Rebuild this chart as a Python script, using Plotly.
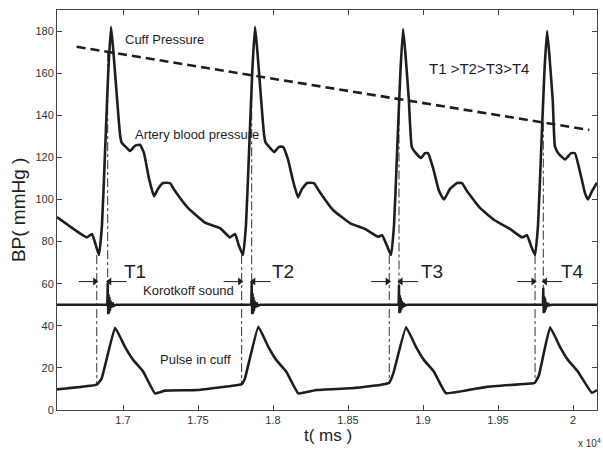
import plotly.graph_objects as go

# ---------------- data ----------------
artery_t = [16560, 16680, 16760, 16793, 16820, 16840, 16860, 16880, 16902, 16920, 16935, 16958,
            16980, 16991, 17027, 17047, 17080, 17113, 17140, 17173, 17207, 17233, 17267, 17313,
            17347, 17433, 17547, 17647, 17713, 17747, 17773, 17800, 17820, 17840, 17862, 17880,
            17895, 17918, 17940, 17951, 17987, 18007, 18040, 18067, 18100, 18133, 18167, 18193,
            18227, 18273, 18307, 18400, 18513, 18613, 18700, 18727, 18760, 18787, 18807, 18827,
            18849, 18867, 18882, 18905, 18925, 18947, 18987, 19013, 19033, 19067, 19107, 19140,
            19180, 19227, 19260, 19293, 19380, 19480, 19580, 19660, 19693, 19720, 19747, 19767,
            19787, 19809, 19827, 19842, 19865, 19880, 19907, 19947, 19987, 20013, 20047, 20080,
            20100, 20127, 20160]
artery_bp = [91.6, 85.5, 82, 83.6, 78, 73.6, 88, 122, 161, 182, 171, 150,
             131, 127, 124.4, 123, 125.5, 126, 122, 110, 101.6, 105, 107.8, 107.8,
             104, 96, 89, 86.4, 82, 83.6, 78, 73.6, 88, 122, 161, 182,
             171, 150, 131, 127, 124, 122.5, 125, 125, 119, 109, 101, 105,
             107.8, 107.8, 104, 95, 88.8, 86, 82.3, 83, 78, 73.6, 88, 122,
             160, 181, 170, 148, 125, 122.5, 119.7, 122, 122, 115, 104, 100,
             105, 107.8, 107.8, 104, 96, 90, 86, 82, 83, 78, 73.6, 88,
             122, 160, 180, 169, 147, 125, 121.5, 119, 122, 122, 113, 103,
             100, 104, 108]

cuff_t = [16691, 20109]
cuff_p = [172.5, 133]

pulse_t = [16560, 16825, 16858, 16947, 17013, 17069, 17135, 17213, 17280, 17500, 17767, 17791,
           17813, 17902, 17969, 18022, 18089, 18169, 18291, 18513, 18713, 18775, 18802, 18887,
           18953, 19007, 19073, 19153, 19425, 19735, 19747, 19773, 19847, 19913, 19967, 20033,
           20125, 20160]
pulse_p = [9.8, 12.0, 15, 39.1, 30, 23.7, 18.2, 7.9, 9.2, 9.5, 11.9, 12.3,
           15, 39.5, 30, 23.7, 18.2, 7.9, 9.5, 10.3, 11.9, 13, 17.4, 39.3,
           30, 23.7, 18.2, 8, 11, 12.7, 13, 16.5, 39.3, 30, 23.7, 18.2,
           8.2, 9.5]

korot_t = [16560,
           16880, 16895, 16898, 16901, 16904, 16907, 16910, 16913, 16917, 16922, 16930, 16940, 16955,
           17840, 17855, 17858, 17861, 17864, 17867, 17870, 17873, 17877, 17882, 17890, 17900, 17915,
           18822, 18837, 18840, 18843, 18846, 18849, 18852, 18855, 18859, 18864, 18872, 18882, 18897,
           19785, 19799, 19802, 19805, 19808, 19811, 19814, 19817, 19821, 19826, 19834, 19844, 19859,
           20160]
korot_v = [50,
           50.2, 50, 60.5, 45.5, 55, 46, 53.5, 47, 52, 48.5, 51, 49.5, 50,
           50, 50.2, 61, 45.5, 55.5, 45.8, 53.5, 47, 52, 48.5, 51, 49.5, 50,
           50, 50, 59.5, 46, 54.5, 46.3, 53, 47.5, 51.8, 48.6, 50.8, 49.6, 50,
           50, 50.1, 58, 46, 54, 46.5, 53, 47.5, 51.5, 48.8, 50.7, 49.7, 50,
           50]

left_line_t = [16825, 17791, 18775, 19747]
left_line_top = [73.6, 73.6, 73.6, 73.6]
left_line_bottom = [12.0, 12.3, 13.0, 13.0]
right_line_t = [16898, 17858, 18840, 19802]
right_line_top = [170, 159, 148, 136.5]
right_line_bottom = [46, 46, 46, 46]
interval_labels = ["T1", "T2", "T3", "T4"]

x_tickvals = [17000, 17500, 18000, 18500, 19000, 19500, 20000]
x_ticktext = ["1.7", "1.75", "1.8", "1.85", "1.9", "1.95", "2"]
y_tickvals = [0, 20, 40, 60, 80, 100, 120, 140, 160, 180]

# ---------------- figure ----------------
INK = "#1e1e1e"
FONT = "Liberation Sans, Arial, sans-serif"
ARROW_Y = 61

fig = go.Figure()

# dash-dot guide lines
for i in range(4):
    fig.add_trace(go.Scatter(x=[left_line_t[i], left_line_t[i]],
                             y=[left_line_top[i], left_line_bottom[i]],
                             mode="lines", line=dict(color="#333", width=1, dash="dashdot"),
                             hoverinfo="skip", showlegend=False))
    fig.add_trace(go.Scatter(x=[right_line_t[i], right_line_t[i]],
                             y=[right_line_top[i], right_line_bottom[i]],
                             mode="lines", line=dict(color="#333", width=1, dash="dashdot"),
                             hoverinfo="skip", showlegend=False))
    # interval arrows: left one points right, right one points left
    fig.add_trace(go.Scatter(x=[left_line_t[i] - 120, left_line_t[i] - 8],
                             y=[ARROW_Y, ARROW_Y], mode="lines",
                             line=dict(color=INK, width=1), hoverinfo="skip", showlegend=False))
    fig.add_trace(go.Scatter(x=[left_line_t[i] - 12], y=[ARROW_Y], mode="markers",
                             marker=dict(symbol="triangle-right", size=7, color=INK),
                             hoverinfo="skip", showlegend=False))
    fig.add_trace(go.Scatter(x=[right_line_t[i] + 8, right_line_t[i] + 127],
                             y=[ARROW_Y, ARROW_Y], mode="lines",
                             line=dict(color=INK, width=1), hoverinfo="skip", showlegend=False))
    fig.add_trace(go.Scatter(x=[right_line_t[i] + 12], y=[ARROW_Y], mode="markers",
                             marker=dict(symbol="triangle-left", size=7, color=INK),
                             hoverinfo="skip", showlegend=False))

fig.add_trace(go.Scatter(x=korot_t, y=korot_v, mode="lines",
                         line=dict(color=INK, width=2.4), name="Korotkoff sound", showlegend=False))
fig.add_trace(go.Scatter(x=pulse_t, y=pulse_p, mode="lines",
                         line=dict(color=INK, width=2.6, shape="spline", smoothing=0.3),
                         name="Pulse in cuff", showlegend=False))
fig.add_trace(go.Scatter(x=artery_t, y=artery_bp, mode="lines",
                         line=dict(color=INK, width=2.6, shape="spline", smoothing=0.4),
                         name="Artery blood pressure", showlegend=False))
fig.add_trace(go.Scatter(x=cuff_t, y=cuff_p, mode="lines",
                         line=dict(color=INK, width=2.6, dash="9px,5px"),
                         name="Cuff Pressure", showlegend=False))

annotations = []
label_dx = [95, 125, 130, 105]
for i in range(4):
    annotations.append(dict(x=right_line_t[i] + label_dx[i], y=66, xref="x", yref="y",
                            text=interval_labels[i], showarrow=False, xanchor="left",
                            yanchor="middle", font=dict(family=FONT, size=19, color=INK)))

text_notes = [
    ("Cuff Pressure", 17000, 176, 13),
    ("Artery blood pressure", 17065, 131, 13),
    ("T1 >T2>T3>T4", 19027, 162, 15),
    ("Korotkoff sound", 17120, 57, 13),
    ("Pulse in cuff", 17235, 24, 13),
]
for txt, tx, ty, sz in text_notes:
    annotations.append(dict(x=tx, y=ty, xref="x", yref="y", text=txt, showarrow=False,
                            xanchor="left", yanchor="middle",
                            font=dict(family=FONT, size=sz, color=INK)))

# axis titles and exponent
annotations.append(dict(x=-0.072, y=0.5, xref="paper", yref="paper", text="BP( mmHg )",
                        textangle=-90, showarrow=False, xanchor="center", yanchor="middle",
                        font=dict(family=FONT, size=19, color=INK)))
annotations.append(dict(x=0.502, y=-0.064, xref="paper", yref="paper", text="t( ms )",
                        showarrow=False, xanchor="center", yanchor="middle",
                        font=dict(family=FONT, size=17, color=INK)))
annotations.append(dict(x=1.011, y=-0.082, xref="paper", yref="paper", text="x 10<sup>4</sup>",
                        showarrow=False, xanchor="right", yanchor="middle",
                        font=dict(family=FONT, size=10, color="#333")))

fig.update_layout(
    width=603, height=450,
    margin=dict(l=57, r=6, t=10, b=40),
    paper_bgcolor="white", plot_bgcolor="white",
    font=dict(family=FONT, color="#333"),
    annotations=annotations,
    showlegend=False,
    xaxis=dict(range=[16560, 20160], tickvals=x_tickvals, ticktext=x_ticktext,
               ticks="inside", ticklen=5, tickcolor="#444", showline=True, linecolor="#444",
               linewidth=1, mirror="ticks", showgrid=False, zeroline=False,
               tickfont=dict(family=FONT, size=11, color="#333")),
    yaxis=dict(range=[0, 190], tickvals=y_tickvals,
               ticks="inside", ticklen=5, tickcolor="#444", showline=True, linecolor="#444",
               linewidth=1, mirror="ticks", showgrid=False, zeroline=False,
               tickfont=dict(family=FONT, size=11, color="#333")),
)

fig.write_html("out.html", config={"displayModeBar": False},
               post_script="document.body.style.margin='0px';document.body.style.overflow='hidden';")
